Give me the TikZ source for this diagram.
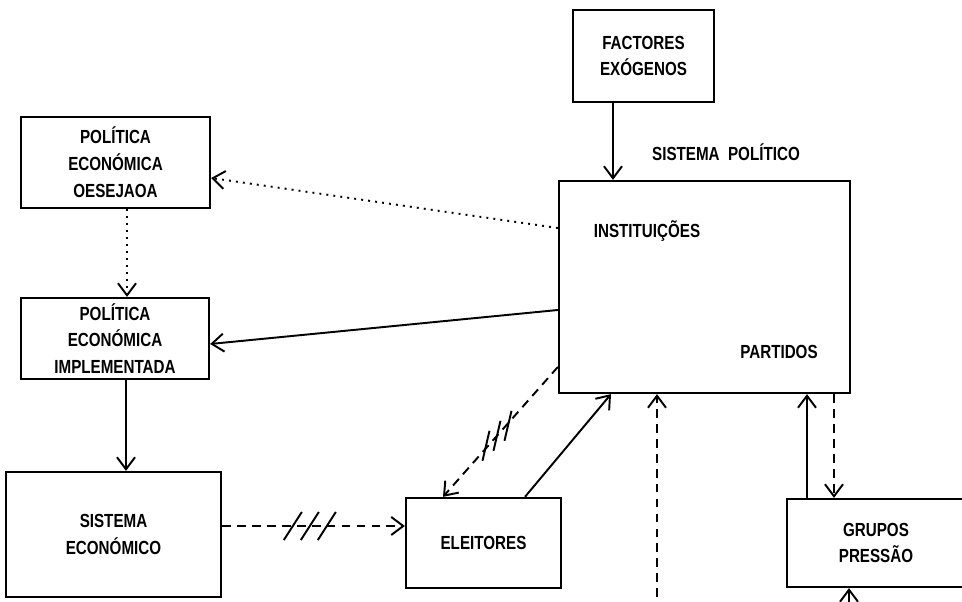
\documentclass[tikz,border=0pt]{standalone}
\usepackage{fontspec}
\setmainfont{Liberation Sans}[FakeStretch=0.8]
\usetikzlibrary{positioning,calc,arrows.meta}

\begin{document}
\begin{tikzpicture}[
    txt/.style={font=\bfseries\fontsize{10.8}{15.3}\selectfont, align=center, inner sep=0pt},
    box/.style={txt, draw, line width=1.3pt},
    arrow/.style={-{Straight Barb[length=2.4mm,width=3.6mm]}, line width=1.1pt},
    dasharrow/.style={arrow, dash pattern=on 5pt off 3.5pt},
    dotarrow/.style={arrow, dash pattern=on 1.1pt off 2.9pt},
    cut/.style={line width=1.1pt, solid},
]
\useasboundingbox (0,0) rectangle (19.24,12.04);
\clip (0,0) rectangle (19.24,12.04);

% Factores exogenos
\node[box, minimum width=2.82cm, minimum height=1.84cm] (fact) at (12.87, 10.92) {FACTORES\\EXÓGENOS};

% Sistema politico
\node[txt] (polLabel) at (14.52, 9.00) {SISTEMA\ \ POLÍTICO};
\node[box, minimum width=5.82cm, minimum height=4.24cm] (pol) at (14.09, 6.30) {};
\node[txt] (inst) at (12.94, 7.42) {INSTITUIÇÕES};
\node[txt] (part) at (15.58, 5.00) {PARTIDOS};

% Politica economica
\node[box, minimum width=3.78cm, minimum height=1.82cm] (des) at (2.31, 8.79) {POLÍTICA\\ECONÓMICA\\OESEJAOA};
\node[box, minimum width=3.76cm, minimum height=1.62cm] (imp) at (2.30, 5.27) {POLÍTICA\\ECONÓMICA\\IMPLEMENTADA};

% Sistema economico, eleitores, grupos
\node[box, minimum width=4.30cm, minimum height=2.50cm] (eco) at (2.27, 1.35) {SISTEMA\\ECONÓMICO};
\node[box, minimum width=3.10cm, minimum height=1.80cm] (ele) at (9.67, 1.18) {ELEITORES};
\node[box, minimum width=3.56cm, minimum height=1.76cm] (grp) at (17.52, 1.18) {GRUPOS\\PRESSÃO};

% Arrows
\draw[arrow] ([xshift=-6.1mm]fact.south) -- ([xshift=-6.1mm]fact.south |- pol.north);
\draw[dotarrow] ([yshift=11.8mm]pol.west) -- ([yshift=-3.1mm]des.east);
\draw[dotarrow] ([xshift=2.3mm]des.south) -- ([xshift=2.3mm]des.south |- imp.north);
\draw[arrow] ([yshift=-4.6mm]pol.west) -- ([yshift=-1.1mm]imp.east);
\draw[arrow] ([xshift=2.2mm]imp.south) -- ([xshift=2.2mm]imp.south |- eco.north);
\draw[dasharrow] ([yshift=1.7mm]eco.east) -- coordinate[pos=0.48] (cutA) ([yshift=1.7mm]eco.east -| ele.west);
\draw[dasharrow] ([yshift=-16mm]pol.west) -- coordinate[pos=0.53] (cutB) ([xshift=-8.1mm]ele.north);
\draw[arrow] ([xshift=8.3mm]ele.north) -- ([xshift=-18.7mm]pol.south);
\coordinate (inPol) at (13.14, -0.2);
\draw[dasharrow] (inPol) -- (inPol |- pol.south);
\draw[arrow] ([xshift=-13.8mm]grp.north) -- ([xshift=-13.8mm]grp.north |- pol.south);
\draw[dasharrow] ([xshift=-8.4mm]grp.north |- pol.south) -- ([xshift=-8.4mm]grp.north);
\coordinate (inGrp) at (16.98, -0.2);
\draw[arrow] (inGrp) -- (inGrp |- grp.south);

% Cut marks
\foreach \i in {-1,0,1} {
  \draw[cut] ($(cutA)+(\i*0.34-0.18,-0.28)$) -- ++(0.36,0.56);
  \draw[cut] ($(cutB)+(\i*0.22-0.07,\i*0.2-0.3)$) -- ++(0.14,0.6);
}
\end{tikzpicture}
\end{document}
